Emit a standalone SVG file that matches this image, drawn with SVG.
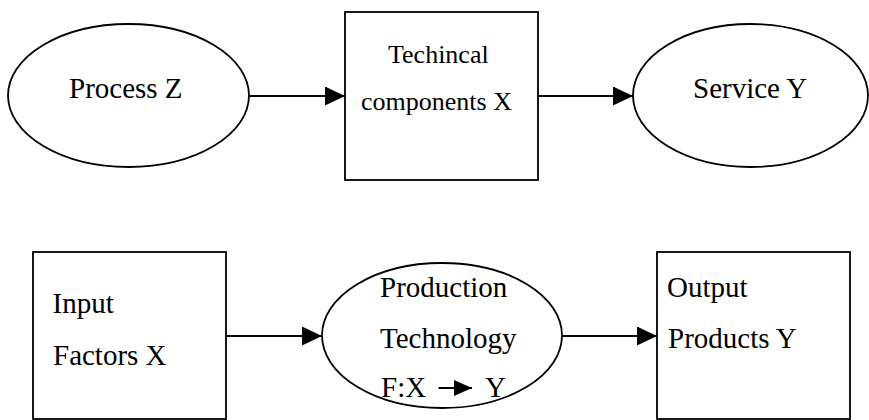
<svg xmlns="http://www.w3.org/2000/svg" width="869" height="420" viewBox="0 0 869 420">
<style>
.shape{fill:#fff;stroke:#000;stroke-width:1.8}
.conn{stroke:#000;stroke-width:1.8;fill:none}
.t{font-family:"Liberation Serif","Times New Roman",serif;font-size:29px;fill:#000}
.t25{font-family:"Liberation Serif","Times New Roman",serif;font-size:26px;fill:#000}
</style>
<defs>
<marker id="ah" markerUnits="userSpaceOnUse" markerWidth="20" markerHeight="19" refX="20" refY="9.5" orient="auto">
<path d="M0,0 L20,9.5 L0,19 z" fill="#000"/>
</marker>
<marker id="ahs" markerUnits="userSpaceOnUse" markerWidth="18" markerHeight="16" refX="18" refY="8" orient="auto">
<path d="M0,0 L18,8 L0,16 z" fill="#000"/>
</marker>
</defs>
<rect width="869" height="420" fill="#fff"/>
<g id="process-z">
<ellipse class="shape" cx="128.5" cy="95.5" rx="120.5" ry="71.5"/>
<text class="t" x="69" y="97.5">Process Z</text>
</g>
<g id="technical-components-x">
<rect class="shape" x="345" y="12" width="193" height="168"/>
<text class="t25" x="388" y="62.7">Techincal</text>
<text class="t25" x="361" y="110">components X</text>
</g>
<g id="service-y">
<ellipse class="shape" cx="750.5" cy="95.5" rx="117.5" ry="71.5"/>
<text class="t" x="693" y="98">Service Y</text>
</g>
<g id="input-factors-x">
<rect class="shape" x="33" y="252" width="193" height="167"/>
<text class="t" x="52.5" y="312.7">Input</text>
<text class="t" x="53" y="365">Factors X</text>
</g>
<g id="production-technology">
<ellipse class="shape" cx="442" cy="335.5" rx="120" ry="72.5"/>
<text class="t" x="380" y="297">Production</text>
<text class="t" x="380" y="348">Technology</text>
<text class="t" x="381" y="397.3">F:X</text>
<line class="conn" x1="438.5" y1="388" x2="472" y2="388" marker-end="url(#ahs)"/>
<text class="t" x="485" y="397.3">Y</text>
</g>
<g id="output-products-y">
<rect class="shape" x="657" y="252" width="193" height="167"/>
<text class="t" x="667" y="297">Output</text>
<text class="t" x="668" y="348">Products Y</text>
</g>
<g id="connectors">
<line class="conn" x1="249" y1="96" x2="345" y2="96" marker-end="url(#ah)"/>
<line class="conn" x1="538" y1="96" x2="633" y2="96" marker-end="url(#ah)"/>
<line class="conn" x1="226" y1="336" x2="322" y2="336" marker-end="url(#ah)"/>
<line class="conn" x1="562" y1="336" x2="657" y2="336" marker-end="url(#ah)"/>
</g>
</svg>
